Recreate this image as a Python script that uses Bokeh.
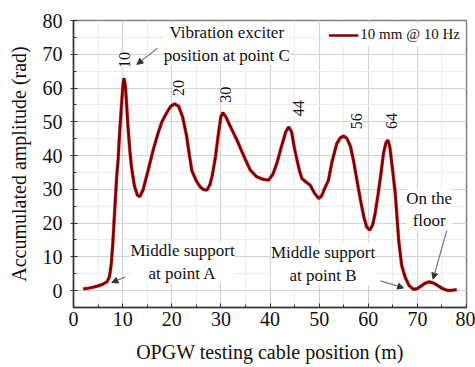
import math
from bokeh.plotting import figure
from bokeh.models import (ColumnDataSource, LabelSet, Label, Arrow, NormalHead,
                          SingleIntervalTicker, Legend, LegendItem)
from bokeh.embed import file_html
from bokeh.resources import INLINE

# ---- data ----
position_m = [2.0, 3.0, 4.0, 5.0, 6.0, 6.8, 7.3, 7.7, 8.0, 8.4, 8.8, 9.1, 9.4, 9.8,
              10.1, 10.3, 10.6, 11.1, 11.5, 11.8, 12.4, 13.0, 13.5, 14.2, 15.2, 16.2,
              17.2, 18.0, 18.9, 19.8, 20.6, 21.4, 22.2, 23.0, 23.6, 24.1, 25.0, 25.8,
              26.5, 27.2, 27.8, 28.3, 28.9, 29.5, 30.0, 30.4, 31.0, 31.8, 32.6, 33.3,
              34.0, 35.0, 36.0, 37.3, 38.5, 39.7, 40.6, 41.4, 42.3, 43.2, 43.8, 44.4,
              45.0, 45.5, 46.0, 46.5, 47.3, 48.2, 49.0, 49.9, 50.5, 51.2, 51.9, 52.6,
              53.6, 54.3, 55.0, 55.7, 56.4, 57.0, 57.7, 58.4, 59.1, 59.7, 60.3, 60.9,
              61.4, 62.0, 62.5, 63.1, 63.6, 64.0, 64.4, 64.8, 65.5, 66.2, 66.8, 67.5,
              68.3, 69.2, 70.0, 70.8, 71.6, 72.4, 73.2, 74.0, 75.0, 76.0, 77.0, 78.0]
amplitude_rad = [0.5, 0.7, 1.0, 1.4, 1.9, 2.6, 4.0, 8.0, 14.0, 24.0, 34.0, 39.0, 47.0, 55.5,
                 61.5, 62.9, 60.0, 48.5, 41.0, 36.7, 31.0, 28.3, 27.8, 30.0, 35.7, 41.5,
                 46.6, 50.0, 52.5, 54.6, 55.3, 54.6, 51.5, 46.0, 40.0, 35.5, 32.5, 30.7,
                 29.9, 29.8, 31.5, 34.5, 39.6, 46.5, 51.5, 52.7, 51.5, 49.0, 46.6, 44.5,
                 42.1, 38.8, 35.7, 33.7, 33.0, 32.7, 34.5, 37.7, 42.5, 47.0, 48.5, 47.0,
                 42.0, 38.7, 35.5, 33.2, 32.2, 31.2, 29.0, 27.3, 28.0, 30.5, 32.7, 38.0,
                 43.6, 45.2, 45.8, 45.0, 42.6, 38.5, 32.7, 27.0, 21.8, 18.8, 17.9, 19.5,
                 22.8, 28.5, 33.7, 40.6, 43.8, 44.6, 42.5, 37.7, 28.8, 14.9, 7.5, 4.0,
                 1.5, 0.4, 0.6, 1.4, 2.2, 2.6, 2.3, 1.6, 0.7, 0.1, 0.1, 0.3]

series_name = "10 mm @ 10 Hz"

peak_labels = ["10", "20", "30", "44", "56", "64"]
peak_label_x = [10.3, 21.4, 30.9, 45.8, 57.7, 64.8]
peak_label_y = [68.3, 60.0, 58.0, 54.0, 50.2, 50.2]

note_texts = ["Vibration exciter\nposition at point C", "Middle support\nat point A",
              "Middle support\nat point B", "On the\nfloor"]
note_x = [31.2, 22.2, 50.8, 72.4]
note_y = [73.0, 8.5, 7.8, 24.0]

arrow_x0 = [17.1, 10.5, 62.5, 76.0]
arrow_y0 = [71.8, 4.0, 2.9, 17.9]
arrow_x1 = [12.9, 7.8, 67.2, 73.2]
arrow_y1 = [67.0, 2.4, 0.8, 3.4]

FONT = "'Liberation Serif', 'Times New Roman', serif"

p = figure(width=475, height=367, x_range=(0, 80), y_range=(-5, 80),
           output_backend="svg", toolbar_location=None,
           min_border_left=73, min_border_right=9, min_border_top=20, min_border_bottom=60)

p.background_fill_color = "white"
p.border_fill_color = "white"
p.outline_line_color = "#808080"
p.outline_line_width = 1.5

# axes
p.xaxis.ticker = SingleIntervalTicker(interval=10, num_minor_ticks=2)
p.yaxis.ticker = SingleIntervalTicker(interval=10, num_minor_ticks=2)
for ax in (p.xaxis[0], p.yaxis[0]):
    ax.axis_line_color = "#333333"
    ax.axis_line_width = 1.5
    ax.major_tick_line_color = "#333333"
    ax.minor_tick_line_color = "#333333"
    ax.major_label_text_font = FONT
    ax.major_label_text_font_size = "20px"
    ax.major_label_text_color = "#111111"
    ax.axis_label_text_font = FONT
    ax.axis_label_text_font_size = "20px"
    ax.axis_label_text_font_style = "normal"
    ax.axis_label_text_color = "#111111"
    ax.minor_tick_in = 3
    ax.minor_tick_out = 0

p.xaxis.axis_label = "OPGW testing cable position (m)"
p.yaxis.axis_label = "Accumulated amplitude (rad)"
p.xaxis.major_tick_in = 4
p.xaxis.major_tick_out = 0
p.xaxis.major_label_standoff = 4
p.xaxis.axis_label_standoff = 12
p.yaxis.major_tick_in = 4
p.yaxis.major_tick_out = 3
p.yaxis.major_label_standoff = 8
p.yaxis.axis_label_standoff = 10

# grids
for g in (p.xgrid[0], p.ygrid[0]):
    g.grid_line_color = "#d4d4d4"
    g.grid_line_width = 1.2
    g.minor_grid_line_color = "#ececec"
    g.minor_grid_line_width = 1

# curve
src = ColumnDataSource(dict(x=position_m, y=amplitude_rad))
p.line("x", "y", source=src, line_color="#d01010", line_width=3.8, line_alpha=0.45)
r = p.line("x", "y", source=src, line_color="#7e0000", line_width=2.7)

# peak labels
lsrc = ColumnDataSource(dict(x=peak_label_x, y=peak_label_y, t=peak_labels))
p.add_layout(LabelSet(x="x", y="y", text="t", source=lsrc, angle=math.pi / 2,
                      text_align="center", text_baseline="middle",
                      text_font=FONT, text_font_size="16px", text_color="#111111",
                      background_fill_color="white", background_fill_alpha=1.0))

# arrows
for xa, ya, xb, yb in zip(arrow_x0, arrow_y0, arrow_x1, arrow_y1):
    p.add_layout(Arrow(end=NormalHead(size=6, fill_color="#333333", line_color="#333333"),
                       x_start=xa, y_start=ya, x_end=xb, y_end=yb,
                       line_color="#777777", line_width=1.2))

# notes
for t, xx, yy in zip(note_texts, note_x, note_y):
    p.add_layout(Label(x=xx, y=yy, text=t, text_align="center", text_baseline="middle",
                       text_font=FONT, text_font_size="17px", text_color="#111111",
                       background_fill_color="white", background_fill_alpha=1.0,
                       text_line_height=1.2))

legend = Legend(items=[LegendItem(label=series_name, renderers=[r])],
                location="top_right", label_text_font=FONT, label_text_font_size="15px",
                label_text_color="#111111", glyph_width=30, glyph_height=16,
                label_standoff=2, padding=3, margin=3, border_line_alpha=0,
                background_fill_color="white", background_fill_alpha=1.0)
p.add_layout(legend)

open("out.html", "w").write(file_html(p, INLINE))
